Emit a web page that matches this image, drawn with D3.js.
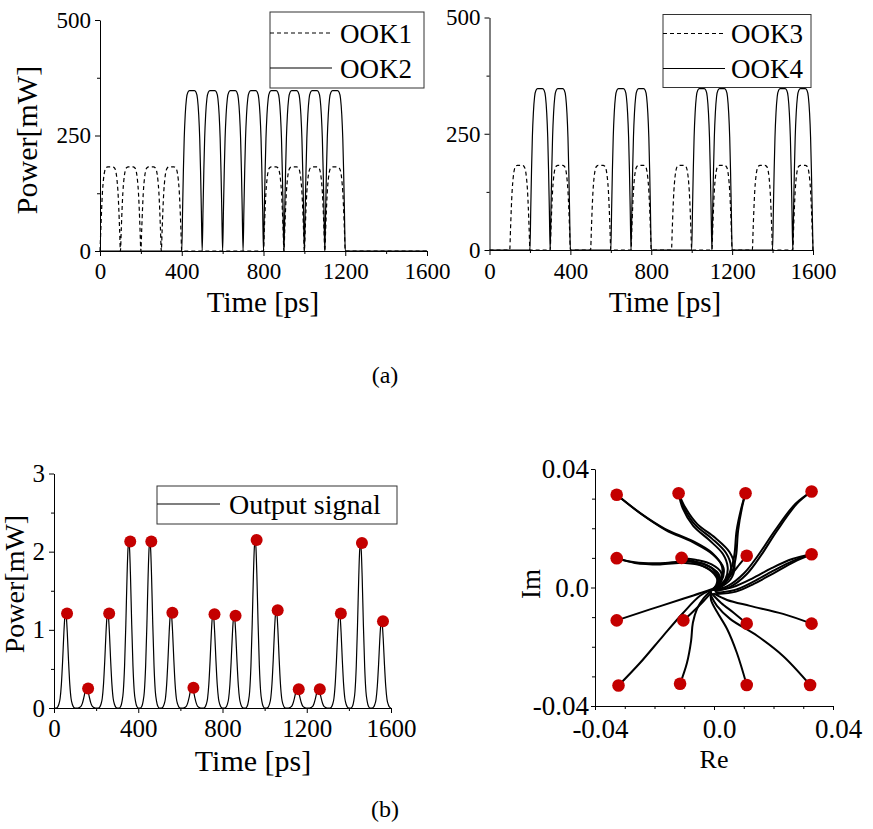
<!doctype html>
<html lang="en">
<head>
	<meta charset="utf-8">
	<title>OOK inputs, output signal and constellation</title>
	<script type="text/javascript" src="https://d3js.org/d3.v7.min.js"></script>
	<style>
		body { margin: 0; background: #fff; }
		svg { display: block; }
	</style>
</head>
<body>
	<script type="text/javascript">
		var width = 873;
		var height = 829;
		var serif = "'Liberation Serif', 'Times New Roman', serif";
		var red = "#c40000";

		// ---- data ----
		var bitSlot = 100;                       // ps per bit
		var ook1Bits = [1,1,1,1,0,0,0,0,1,1,1,1,0,0,0,0];
		var ook2Bits = [0,0,0,0,1,1,1,1,1,1,1,1,0,0,0,0];
		var ook3Bits = [0,1,0,1,0,1,0,1,0,1,0,1,0,1,0,1];
		var ook4Bits = [0,0,1,1,0,0,1,1,0,0,1,1,0,0,1,1];
		var dashedPeak = 182;                    // mW, OOK1 / OOK3
		var solidPeak = 347;                     // mW, OOK2 / OOK4
		// one input pulse, as fraction of the slot and of the peak
		var pulseShapeT = [0, 0.04, 0.08, 0.12, 0.17, 0.23, 0.30, 0.38, 0.50, 0.62, 0.70, 0.77, 0.83, 0.88, 0.92, 0.96, 1];
		var pulseShapeP = [0, 0.25, 0.50, 0.70, 0.85, 0.95, 0.99, 1.00, 1.00, 1.00, 0.99, 0.95, 0.85, 0.70, 0.50, 0.25, 0];

		// output signal (b)
		var outPeakTimes = [55,155,255,355,455,555,655,755,855,955,1055,1155,1255,1355,1455,1555];
		var outSampleTimes = [62,162,262,362,462,562,662,762,862,962,1062,1162,1262,1362,1462,1562];
		var outPeaks = [1.21,0.25,1.21,2.13,2.13,1.22,0.26,1.20,1.18,2.15,1.25,0.24,0.24,1.21,2.11,1.11];
		// one output pulse: offset from peak (ps) and relative height
		var outShapeT = [-45, -38, -32, -26, -20, -14, -8, -4, 0, 4, 8, 14, 20, 26, 32, 38, 45];
		var outShapeP = [0, 0.01, 0.04, 0.10, 0.25, 0.50, 0.80, 0.95, 1, 0.95, 0.80, 0.50, 0.25, 0.10, 0.04, 0.01, 0];

		// constellation, values in units of 1e-3
		var symRe = [-32.7,-11.9,10.6,32.8, -32.7,-10.9,11.0,32.8, -32.7,-10.3,11.0,32.8, -32.1,-11.4,11.0,32.3];
		var symIm = [31.3,31.8,31.8,32.4, 9.9,10.0,10.7,11.2, -11.1,-11.1,-12.2,-12.2, -33.1,-32.5,-32.9,-32.9];
		// traces from each symbol into the origin (several traces per symbol where the bundle splits)
		var trajectories = [
			[[-32.7,31.3],[-24.9,25.2],[-16.5,19.8],[-7.4,15.8],[-0.7,11.7],[2.7,7.0],[2.0,2.3],[-0.3,-0.4]],
			[[-32.7,31.3],[-24.7,25.0],[-16.2,19.4],[-7.0,15.2],[-0.2,11.0],[3.2,6.6],[2.4,2.0],[0,-0.5]],
			[[-11.9,31.8],[-10.1,26.9],[-6.4,21.2],[-0.7,16.5],[4.0,11.7],[5.7,7.0],[4.7,2.9],[0.7,-0.4]],
			[[-11.9,31.8],[-9.6,26.9],[-5.6,21.4],[0.4,16.8],[5.2,12.0],[6.9,7.2],[5.6,2.8],[1.0,-0.6]],
			[[-11.9,31.8],[-10.5,26.7],[-7.0,20.8],[-1.6,16.0],[3.0,11.3],[4.6,6.8],[3.8,2.8],[0.4,-0.4]],
			[[10.6,31.8],[9.4,26.9],[8.1,19.2],[7.4,10.7],[6.0,5.0],[2.7,0.6],[0,-0.8]],
			[[10.6,31.8],[9.2,26.9],[7.6,19.2],[6.8,10.7],[5.3,5.0],[2.2,0.6],[-0.3,-0.6]],
			[[32.8,32.4],[27.9,28.3],[21.2,19.2],[15.5,10.4],[10.8,4.3],[5.4,0.2],[0.7,-1.1]],
			[[32.8,32.4],[27.4,28.3],[20.6,19.4],[14.8,10.8],[10.1,4.8],[4.8,0.6],[0.4,-0.9]],
			[[-32.7,9.9],[-26.6,8.3],[-18.1,7.8],[-9.7,8.3],[-4.0,7.3],[0,4.6],[1.3,1.6],[0,-0.8]],
			[[-32.7,9.9],[-26.6,8.5],[-18.1,8.2],[-9.5,8.8],[-3.6,8.0],[0.6,5.2],[1.8,1.9],[0.3,-0.6]],
			[[-10.9,10.0],[-6.0,8.7],[-1.3,7.0],[1.7,4.3],[1.3,1.3],[-0.3,-0.8]],
			[[-10.9,10.0],[-5.8,9.3],[-0.8,7.8],[2.4,5.0],[2.0,1.6],[0.0,-0.6]],
			[[-10.9,10.0],[-6.2,8.2],[-1.8,6.3],[1.0,3.8],[0.8,1.0],[-0.5,-0.9]],
			[[11.0,10.7],[8.7,8.0],[6.0,4.6],[2.7,1.3],[0,-0.8]],
			[[32.8,11.2],[26.6,9.0],[19.8,5.6],[13.1,1.9],[7.1,-0.8],[0.7,-1.8]],
			[[32.8,11.2],[26.3,9.6],[19.5,6.6],[12.8,3.0],[6.6,0.2],[0.5,-1.2]],
			[[32.8,11.2],[26.8,8.6],[20.0,4.8],[13.4,1.2],[7.4,-1.4],[1.0,-2.2]],
			[[-32.7,-11.1],[-21.5,-7.4],[-10.4,-3.8],[-3.7,-1.6],[-0.3,-0.4]],
			[[-10.3,-11.1],[-7.1,-8.2],[-3.7,-4.8],[-1.0,-1.8]],
			[[11.0,-12.2],[6.7,-8.6],[2.4,-5.2],[-0.7,-2.1]],
			[[32.8,-12.2],[23.2,-8.9],[12.1,-6.2],[4.4,-4.2],[0,-2.1]],
			[[-32.1,-33.1],[-24.9,-25.5],[-17.1,-16.3],[-10.4,-8.6],[-4.7,-2.8],[-1.0,-0.8]],
			[[-11.4,-32.5],[-9.1,-25.5],[-7.7,-18.0],[-7.1,-11.9],[-5.7,-7.2],[-3.4,-3.5],[-1.0,-1.1]],
			[[11.0,-32.9],[7.7,-22.1],[4.4,-14.0],[1.0,-8.2],[-1.0,-4.2],[-1.0,-1.5]],
			[[32.3,-32.9],[23.2,-23.1],[14.5,-16.3],[5.4,-10.6],[1.0,-6.2],[-1.0,-2.8]]
		];

		var timeTicks = [0, 400, 800, 1200, 1600];
		var timeMinor = [200, 600, 1000, 1400];
		var powerTicksA = [0, 250, 500];
		var powerMinorA = [125, 375];
		var powerTicksB = [0, 1, 2, 3];
		var powerMinorB = [0.5, 1.5, 2.5];
		var iqTicks = [-0.04, 0, 0.04];
		var iqMinor = [-0.03, -0.02, -0.01, 0.01, 0.02, 0.03];

		var svg = d3.select("body").append("svg")
			.attr("width", width)
			.attr("height", height)
			.style("background", "#fff");

		// builds an RZ pulse train from a bit pattern
		function pulseTrain(bits, peak) {
			var pts = [];
			bits.forEach(function(b, k) {
				var t0 = k * bitSlot;
				if (b) {
					pulseShapeT.forEach(function(f, i) { pts.push([t0 + f * bitSlot, peak * pulseShapeP[i]]); });
				} else {
					pts.push([t0, 0]);
					pts.push([t0 + bitSlot, 0]);
				}
			});
			return pts.filter(function(p, i) { return i === 0 || p[0] !== pts[i - 1][0]; });
		}

		function outputTrace() {
			var pts = [[0, 0]];
			outPeakTimes.forEach(function(tp, k) {
				outShapeT.forEach(function(dt, i) { pts.push([tp + dt, outPeaks[k] * outShapeP[i]]); });
			});
			return pts.filter(function(p, i) { return i === 0 || p[0] !== pts[i - 1][0]; });
		}

		// axis with major (labelled) + minor ticks
		function addAxis(make, scale, major, minor, transform, opts) {
			var g = svg.append("g").attr("transform", transform);
			g.append("g").call(make(scale).tickValues(minor).tickFormat("").tickSize(opts.minorSize || 3).tickSizeOuter(0))
				.select(".domain").remove();
			var a = g.append("g").call(make(scale).tickValues(major).tickSize(opts.size || 5)
					.tickSizeOuter(0).tickPadding(opts.pad)
					.tickFormat(opts.format || function(d) { return String(d); }))
				.attr("font-family", serif)
				.attr("font-size", opts.font);
			g.selectAll("line, path").attr("stroke", "#000").attr("stroke-width", 1);
			a.selectAll("text").attr("fill", "#000").attr("dx", opts.dx || 0);
			return g;
		}

		function addText(x, y, str, size, anchor, rotate) {
			var t = svg.append("text")
				.attr("font-family", serif)
				.attr("font-size", size)
				.attr("fill", "#000")
				.attr("text-anchor", anchor || "middle")
				.text(str);
			if (rotate) t.attr("transform", "translate(" + x + "," + y + ") rotate(-90)");
			else t.attr("x", x).attr("y", y);
			return t;
		}

		function legend(x0, y0, w, h, rows, lineLen, textX, fontSize) {
			svg.append("rect")
				.attr("x", x0).attr("y", y0).attr("width", w).attr("height", h)
				.attr("fill", "#fff").attr("stroke", "#333").attr("stroke-width", 1);
			rows.forEach(function(r) {
				svg.append("line")
					.attr("x1", x0).attr("x2", x0 + lineLen)
					.attr("y1", r.y).attr("y2", r.y)
					.attr("stroke", "#000").attr("stroke-width", 1.1)
					.attr("stroke-dasharray", r.dash ? "4,3" : null);
				addText(textX, r.y + 9.5, r.label, fontSize, "start");
			});
		}

		var line = d3.line().curve(d3.curveMonotoneX);

		// ---- (a) left: OOK1 / OOK2 ----
		var xA1 = d3.scaleLinear().domain([0, 1600]).range([100, 427]);
		var yA1 = d3.scaleLinear().domain([0, 500]).range([251, 20]);
		line.x(function(d) { return xA1(d[0]); }).y(function(d) { return yA1(d[1]); });
		svg.append("path").attr("d", line(pulseTrain(ook1Bits, dashedPeak)))
			.attr("fill", "none").attr("stroke", "#000").attr("stroke-width", 1.2).attr("stroke-dasharray", "4,3");
		svg.append("path").attr("d", line(pulseTrain(ook2Bits, solidPeak)))
			.attr("fill", "none").attr("stroke", "#000").attr("stroke-width", 1.2);
		addAxis(d3.axisBottom, xA1, timeTicks, timeMinor, "translate(0,251)", {font: 23, pad: 7});
		addAxis(d3.axisLeft, yA1, powerTicksA, powerMinorA, "translate(100,0)", {font: 23, pad: 4});
		legend(270, 12, 154, 76, [{y: 33, label: "OOK1", dash: true}, {y: 68, label: "OOK2"}], 62, 340, 27);
		addText(263, 312, "Time [ps]", 29);
		addText(37, 140, "Power[mW]", 30, "middle", true);

		// ---- (a) right: OOK3 / OOK4 ----
		var xA2 = d3.scaleLinear().domain([0, 1600]).range([489.5, 813]);
		var yA2 = d3.scaleLinear().domain([0, 500]).range([250, 17.5]);
		line.x(function(d) { return xA2(d[0]); }).y(function(d) { return yA2(d[1]); });
		svg.append("path").attr("d", line(pulseTrain(ook3Bits, dashedPeak)))
			.attr("fill", "none").attr("stroke", "#000").attr("stroke-width", 1.2).attr("stroke-dasharray", "4,3");
		svg.append("path").attr("d", line(pulseTrain(ook4Bits, solidPeak)))
			.attr("fill", "none").attr("stroke", "#000").attr("stroke-width", 1.2);
		addAxis(d3.axisBottom, xA2, timeTicks, timeMinor, "translate(0,250)", {font: 23, pad: 8});
		addAxis(d3.axisLeft, yA2, powerTicksA, powerMinorA, "translate(489.5,0)", {font: 23, pad: 4});
		legend(663, 14.5, 148, 73, [{y: 33.5, label: "OOK3", dash: true}, {y: 68.5, label: "OOK4"}], 62, 731, 27);
		addText(665, 312, "Time [ps]", 29);

		addText(385, 383, "(a)", 24);

		// ---- (b) left: output signal ----
		var xB = d3.scaleLinear().domain([0, 1600]).range([54, 391]);
		var yB = d3.scaleLinear().domain([0, 3]).range([708, 473.5]);
		line.x(function(d) { return xB(d[0]); }).y(function(d) { return yB(d[1]); });
		svg.append("path").attr("d", line(outputTrace()))
			.attr("fill", "none").attr("stroke", "#000").attr("stroke-width", 1.2);
		svg.selectAll("circle.sample")
			.data(outPeaks)
			.enter()
			.append("circle")
			.attr("class", "sample")
			.attr("cx", function(d, i) { return xB(outSampleTimes[i]); })
			.attr("cy", function(d) { return yB(d); })
			.attr("r", 6)
			.attr("fill", red);
		addAxis(d3.axisBottom, xB, timeTicks, timeMinor, "translate(0,708)", {font: 25, pad: 6});
		addAxis(d3.axisLeft, yB, powerTicksB, powerMinorB, "translate(54,0)", {font: 25, pad: 4});
		legend(157, 486, 240, 38, [{y: 504, label: "Output signal"}], 63, 229, 28);
		addText(253, 771, "Time [ps]", 30);
		addText(24, 584, "Power[mW]", 28, "middle", true);

		// ---- (b) right: constellation ----
		var xC = d3.scaleLinear().domain([-0.04, 0.04]).range([595, 833]);
		var yC = d3.scaleLinear().domain([-0.04, 0.04]).range([706, 469]);
		var iqFormat = function(d) { return d === 0 ? "0.0" : d.toFixed(2); };
		var traj = d3.line()
			.curve(d3.curveCatmullRom.alpha(0.5))
			.x(function(d) { return xC(d[0] * 1e-3); })
			.y(function(d) { return yC(d[1] * 1e-3); });
		svg.append("g").selectAll("path")
			.data(trajectories)
			.enter()
			.append("path")
			.attr("d", traj)
			.attr("fill", "none")
			.attr("stroke", "#000")
			.attr("stroke-width", 2)
			.attr("stroke-linecap", "round");
		svg.append("g").selectAll("circle")
			.data(symRe)
			.enter()
			.append("circle")
			.attr("cx", function(d) { return xC(d * 1e-3); })
			.attr("cy", function(d, i) { return yC(symIm[i] * 1e-3); })
			.attr("r", 6.3)
			.attr("fill", red);
		addAxis(d3.axisBottom, xC, iqTicks, iqMinor, "translate(0,706)", {font: 27, pad: 9, size: 4, minorSize: 3, format: iqFormat, dx: 5});
		addAxis(d3.axisLeft, yC, iqTicks, iqMinor, "translate(595,0)", {font: 27, pad: 2, size: 4, minorSize: 3, format: iqFormat});
		addText(714, 768, "Re", 26);
		addText(540, 584, "Im", 27, "middle", true);

		addText(385, 817, "(b)", 24);
	</script>
</body>
</html>
